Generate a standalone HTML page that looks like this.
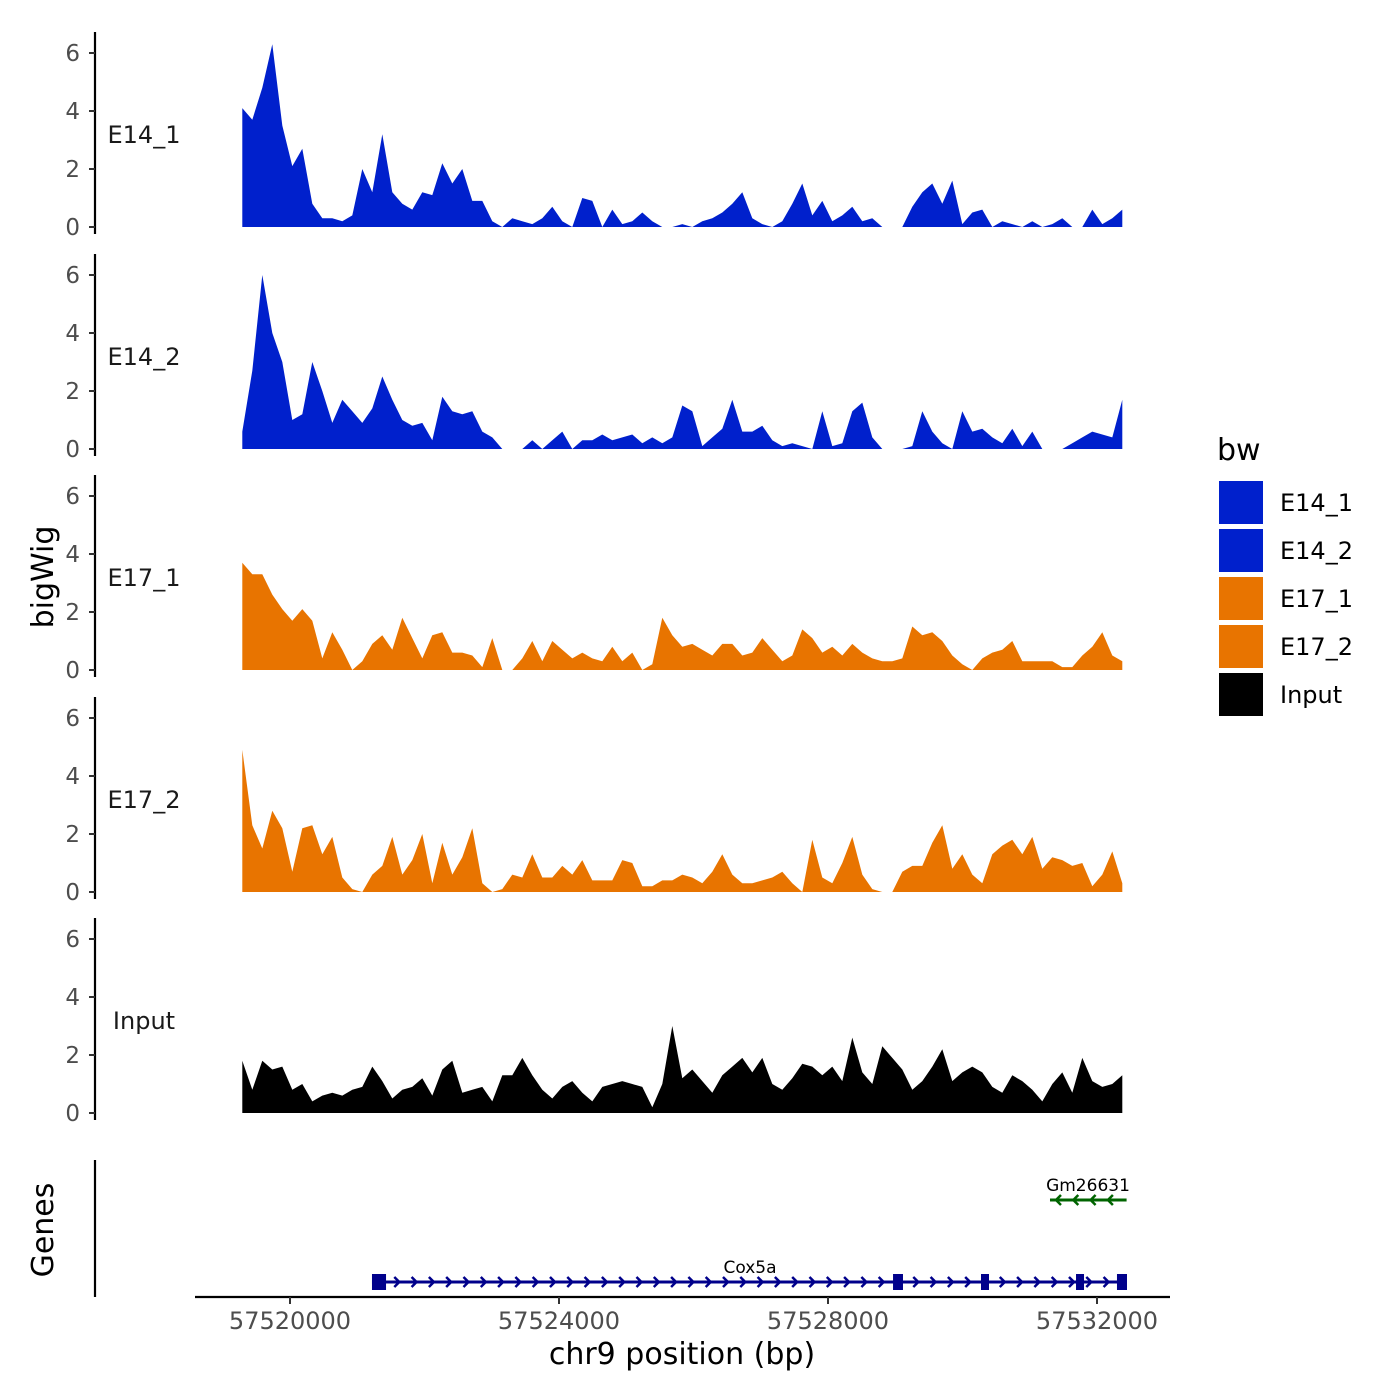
<!DOCTYPE html>
<html><head><meta charset="utf-8">
<style>
html,body{margin:0;padding:0;background:#fff;}
svg{display:block;font-family:"DejaVu Sans","Liberation Sans",sans-serif;}
</style></head>
<body>
<svg id="chart" width="1400" height="1400" viewBox="0 0 1400 1400"></svg>
<script>
// ---- data ----
const binStart = 57519290;
const binSize = 148.7;
const trackNames = ["E14_1","E14_2","E17_1","E17_2","Input"];
const trackColors = ["#0020CC","#0020CC","#E87400","#E87400","#000000"];
const yTicks = [0,2,4,6];
const xTicks = [57520000,57524000,57528000,57532000];
const xTickLabels = ["57520000","57524000","57528000","57532000"];
const e14_1 = [4.1,3.7,4.8,6.3,3.5,2.1,2.7,0.8,0.3,0.3,0.2,0.4,2.0,1.2,3.2,1.2,0.8,0.6,1.2,1.1,2.2,1.5,2.0,0.9,0.9,0.2,0,0.3,0.2,0.1,0.3,0.7,0.2,0,1.0,0.9,0,0.6,0.1,0.2,0.5,0.2,0,0,0.1,0,0.2,0.3,0.5,0.8,1.2,0.3,0.1,0,0.2,0.8,1.5,0.4,0.9,0.2,0.4,0.7,0.2,0.3,0,0,0,0.7,1.2,1.5,0.8,1.6,0.1,0.5,0.6,0,0.2,0.1,0,0.2,0,0.1,0.3,0,0,0.6,0.1,0.3,0.6];
const e14_2 = [0.6,2.7,6.0,4.0,3.0,1.0,1.2,3.0,2.0,0.9,1.7,1.3,0.9,1.4,2.5,1.7,1.0,0.8,0.9,0.3,1.8,1.3,1.2,1.3,0.6,0.4,0,0,0,0.3,0,0.3,0.6,0,0.3,0.3,0.5,0.3,0.4,0.5,0.2,0.4,0.2,0.4,1.5,1.3,0.1,0.4,0.7,1.7,0.6,0.6,0.8,0.3,0.1,0.2,0.1,0,1.3,0.1,0.2,1.3,1.6,0.4,0,0,0,0.1,1.3,0.6,0.2,0,1.3,0.6,0.7,0.4,0.2,0.7,0.1,0.6,0,0,0,0.2,0.4,0.6,0.5,0.4,1.7];
const e17_1 = [3.7,3.3,3.3,2.6,2.1,1.7,2.1,1.7,0.4,1.3,0.7,0,0.3,0.9,1.2,0.7,1.8,1.1,0.4,1.2,1.3,0.6,0.6,0.5,0.1,1.1,0,0,0.4,1.0,0.3,1.0,0.7,0.4,0.6,0.4,0.3,0.8,0.3,0.6,0,0.2,1.8,1.2,0.8,0.9,0.7,0.5,0.9,0.9,0.5,0.6,1.1,0.7,0.3,0.5,1.4,1.1,0.6,0.8,0.5,0.9,0.6,0.4,0.3,0.3,0.4,1.5,1.2,1.3,1.0,0.5,0.2,0,0.4,0.6,0.7,1.0,0.3,0.3,0.3,0.3,0.1,0.1,0.5,0.8,1.3,0.5,0.3];
const e17_2 = [4.9,2.3,1.5,2.8,2.2,0.7,2.2,2.3,1.3,1.9,0.5,0.1,0,0.6,0.9,1.9,0.6,1.1,2.0,0.3,1.7,0.6,1.2,2.2,0.3,0,0.1,0.6,0.5,1.3,0.5,0.5,0.9,0.6,1.1,0.4,0.4,0.4,1.1,1.0,0.2,0.2,0.4,0.4,0.6,0.5,0.3,0.7,1.3,0.6,0.3,0.3,0.4,0.5,0.7,0.3,0,1.8,0.5,0.3,1.0,1.9,0.6,0.1,0,0,0.7,0.9,0.9,1.7,2.3,0.8,1.3,0.6,0.3,1.3,1.6,1.8,1.3,1.9,0.8,1.2,1.1,0.9,1.0,0.2,0.6,1.4,0.3];
const input = [1.8,0.8,1.8,1.5,1.6,0.8,1.0,0.4,0.6,0.7,0.6,0.8,0.9,1.6,1.1,0.5,0.8,0.9,1.2,0.6,1.5,1.8,0.7,0.8,0.9,0.4,1.3,1.3,1.9,1.3,0.8,0.5,0.9,1.1,0.7,0.4,0.9,1.0,1.1,1.0,0.9,0.2,1.0,3.0,1.2,1.5,1.1,0.7,1.3,1.6,1.9,1.4,1.9,1.0,0.8,1.2,1.7,1.6,1.3,1.6,1.1,2.6,1.4,1.0,2.3,1.9,1.5,0.8,1.1,1.6,2.2,1.1,1.4,1.6,1.4,0.9,0.7,1.3,1.1,0.8,0.4,1.0,1.4,0.7,1.9,1.1,0.9,1.0,1.3];
const trackValues = [e14_1,e14_2,e17_1,e17_2,input];
const geneNames = ["Cox5a","Gm26631"];
const geneStarts = [57521219,57531301];
const geneEnds = [57532440,57532440];
const geneStrands = ["+","-"];
const cox5aExonStarts = [57521219,57528967,57530275,57531688,57532297];
const cox5aExonEnds = [57521428,57529115,57530394,57531807,57532446];

// ---- scales ----
const NS="http://www.w3.org/2000/svg";
const svg=document.getElementById('chart');
const xScale = bp => 290 + (bp-57520000)*(807/12000);
const panelZero = [227,449,670,892,1113];
const unitPx = 29;
function el(tag,attrs,parent){const e=document.createElementNS(NS,tag);for(const k in attrs)e.setAttribute(k,attrs[k]);(parent||svg).appendChild(e);return e;}
function txt(s,attrs,parent){const e=el('text',attrs,parent);e.textContent=s;return e;}

trackNames.forEach((name,ti)=>{
  const g=el('g',{});
  
  
  const z=panelZero[ti];
  const yS=v=>z-v*unitPx;
  const ax=el('line',{x1:95,x2:95,y1:z-195,y2:z+7,stroke:'#000','stroke-width':2.2},g);
  
  
  yTicks.forEach(t=>{
    el('line',{x1:89,x2:95,y1:yS(t),y2:yS(t),stroke:'#333','stroke-width':2},g);
    const tl=txt(String(t),{x:80,y:yS(t)+8,'text-anchor':'end','font-size':23,fill:'#4d4d4d'},g);
    
    
  });
  const lab=txt(name,{x:144,y:z-84,'text-anchor':'middle','font-size':24,fill:'#1a1a1a'},g);
  
  
  const vals=trackValues[ti];
  let d='M'+xScale(binStart).toFixed(1)+','+z;
  vals.forEach((v,i)=>{d+=' L'+xScale(binStart+i*binSize).toFixed(1)+','+yS(v).toFixed(1);});
  d+=' L'+xScale(binStart+(vals.length-1)*binSize).toFixed(1)+','+z+' Z';
  const area=el('path',{d:d,fill:trackColors[ti]},g);
  
  
});

// y title
const yt=txt('bigWig',{x:0,y:0,transform:'translate(53,577) rotate(-90)','text-anchor':'middle','font-size':30,fill:'#000'});



// genes panel
const gAx=el('line',{x1:95,x2:95,y1:1160,y2:1297,stroke:'#000','stroke-width':2.2});


const gt=txt('Genes',{x:0,y:0,transform:'translate(53,1230) rotate(-90)','text-anchor':'middle','font-size':30,fill:'#000'});


const geneY=[1282,1200];
const geneCols=['#00008B','#006400'];
geneNames.forEach((gn,gi)=>{
  const g=el('g',{});
  
  
  const y=geneY[gi],c=geneCols[gi];
  const x1=xScale(geneStarts[gi]),x2=xScale(geneEnds[gi]);
  el('line',{x1:x1,x2:x2,y1:y,y2:y,stroke:c,'stroke-width':3},g);
  for(let x=x1+8;x<x2-4;x+=17.3){
    const p=geneStrands[gi]==='+'?`M${x-3},${y-5} L${x+2},${y} L${x-3},${y+5}`:`M${x+3},${y-5} L${x-2},${y} L${x+3},${y+5}`;
    el('path',{d:p,stroke:c,'stroke-width':2.5,fill:'none'},g);
  }
  txt(gn,{x:(gi===0?750:1088),y:y-9,'text-anchor':'middle','font-size':17,fill:'#000'},g);
});
cox5aExonStarts.forEach((s,i)=>{
  const x1=xScale(s),x2=xScale(cox5aExonEnds[i]);
  const r=el('rect',{x:x1,y:1274,width:Math.max(7,x2-x1),height:16,fill:'#00008B'});
  
  
});

// x axis
const xa=el('line',{x1:195,x2:1170,y1:1297,y2:1297,stroke:'#000','stroke-width':2.2});


xTicks.forEach((t,i)=>{
  el('line',{x1:xScale(t),x2:xScale(t),y1:1297,y2:1304,stroke:'#333','stroke-width':2});
  const l=txt(xTickLabels[i],{x:xScale(t),y:1329,'text-anchor':'middle','font-size':24,fill:'#4d4d4d'});
  
  
});
const xt=txt('chr9 position (bp)',{x:682,y:1364,'text-anchor':'middle','font-size':30,fill:'#000'});



// legend
const leg=el('g',{});


txt('bw',{x:1217,y:460,'font-size':30,fill:'#000'},leg);
trackNames.forEach((n,i)=>{
  const y=481+i*48;
  const r=el('rect',{x:1219,y:y,width:44,height:43,fill:trackColors[i]},leg);
  
  
  const t=txt(n,{x:1280,y:y+30,'font-size':24,fill:'#000'},leg);
  
  
});
</script>
</body></html>
